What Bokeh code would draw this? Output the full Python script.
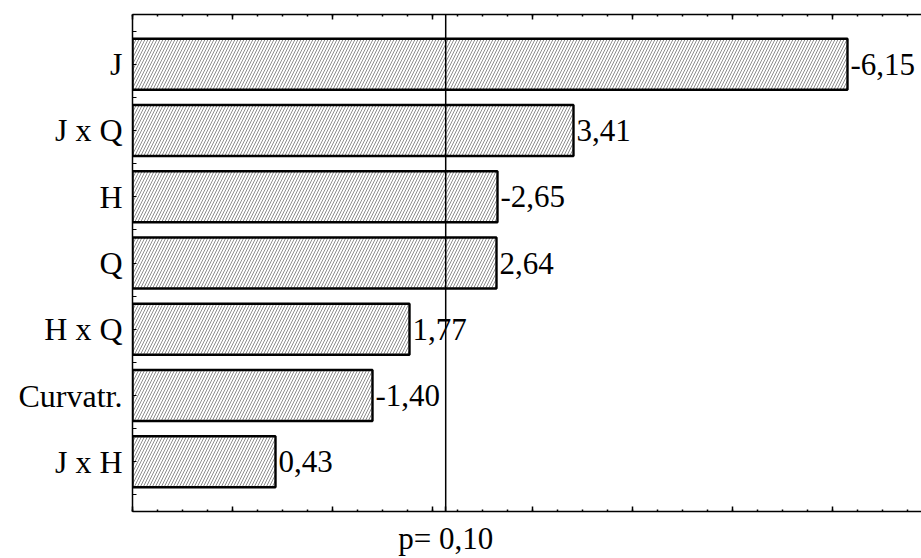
from bokeh.plotting import figure
from bokeh.models import Range1d, LinearAxis, FixedTicker, Span, ColumnDataSource
from bokeh.core.properties import value
from bokeh.embed import file_html
from bokeh.resources import INLINE

# ---- data ----
categories = ["J", "J x Q", "H", "Q", "H x Q", "Curvatr.", "J x H"]
effects = [-6.15, 3.41, -2.65, 2.64, 1.77, -1.40, 0.43]
p_critical = 2.132          # t value for p = 0.10
p_label_text = "p= 0,10"
axis_min = -1.0
major_ticks = [-1, 0, 1, 2, 3, 4, 5, 6]
minor_ticks = [-1 + 0.25 * i for i in range(32)]

n = len(categories)
ypos = [n - i for i in range(n)]
abs_effects = [abs(v) for v in effects]
value_labels = [f"{v:.2f}".replace(".", ",") for v in effects]

FONT = "Liberation Serif"

p = figure(width=921, height=558,
           x_range=Range1d(axis_min, 6.89), y_range=Range1d(0.25, n + 0.75),
           output_backend="svg", toolbar_location=None,
           min_border_left=132, min_border_right=0,
           min_border_top=14, min_border_bottom=47)
p.outline_line_color = None
p.grid.grid_line_color = None
p.background_fill_color = "white"
p.border_fill_color = "white"

src = ColumnDataSource(dict(y=ypos, right=abs_effects, left=[axis_min] * n,
                            lab=value_labels))

p.hbar(y="y", left="left", right="right", height=0.77, source=src,
       fill_color="white", line_color="black", line_width=2.4,
       hatch_pattern="/", hatch_color="#707070", hatch_scale=6, hatch_weight=0.8)

p.text(x="right", y="y", text="lab", source=src, x_offset=3,
       text_align="left", text_baseline="middle",
       text_font=value(FONT), text_font_size="31px", text_color="black")

p.add_layout(Span(location=p_critical, dimension="height",
                  line_color="black", line_width=1.5))

def style_x(ax, ticks, overrides, font_size):
    ax.ticker = FixedTicker(ticks=ticks, minor_ticks=minor_ticks)
    ax.major_label_overrides = overrides
    ax.major_label_text_font = FONT
    ax.major_label_text_font_size = font_size
    ax.major_label_text_color = "black"
    ax.major_tick_in = 5
    ax.major_tick_out = 0
    ax.minor_tick_in = 2
    ax.minor_tick_out = 0
    ax.axis_line_width = 1.5
    ax.axis_line_color = "black"
    ax.major_tick_line_color = "black"
    ax.minor_tick_line_color = "black"
    ax.major_tick_line_width = 1.5
    ax.minor_tick_line_width = 1.5

# bottom axis: blank labels at the major ticks, the p-level label at the critical value
bottom_ticks = major_ticks + [p_critical]
bottom_over = {t: "" for t in major_ticks}
bottom_over[p_critical] = p_label_text
style_x(p.xaxis[0], bottom_ticks, bottom_over, "31px")
p.xaxis[0].major_label_standoff = 9

top = LinearAxis()
style_x(top, major_ticks, {t: "" for t in major_ticks}, "10px")
top.major_label_standoff = 0
p.add_layout(top, "above")

ya = p.yaxis[0]
ya.ticker = FixedTicker(ticks=ypos, minor_ticks=[0.5 + k for k in range(n + 1)])
ya.major_label_overrides = {y: c for y, c in zip(ypos, categories)}
ya.major_label_text_font = FONT
ya.major_label_text_font_size = "32px"
ya.major_label_text_color = "black"
ya.major_label_standoff = 10
ya.major_tick_in = 4
ya.major_tick_out = 0
ya.minor_tick_in = 4
ya.minor_tick_out = 0
ya.axis_line_width = 1.5
ya.axis_line_color = "black"
ya.major_tick_line_color = "black"
ya.minor_tick_line_color = "black"

open("out.html", "w").write(file_html(p, INLINE))
